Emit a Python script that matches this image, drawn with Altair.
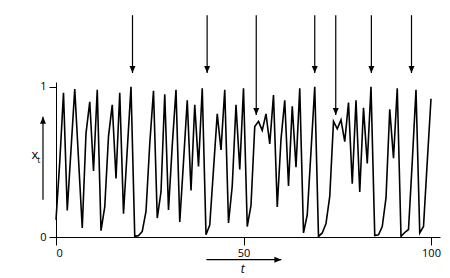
import altair as alt
import pandas as pd

# ---- data ----
t_values = list(range(101))
x_values = [
    0.115, 0.50, 0.96, 0.177, 0.58, 0.985, 0.52, 0.06, 0.69, 0.90,
    0.44, 0.98, 0.042, 0.20, 0.67, 0.88, 0.39, 0.96, 0.155, 0.58,
    1.0, 0.004, 0.009, 0.037, 0.17, 0.62, 0.974, 0.126, 0.30, 0.95,
    0.18, 0.61, 0.98, 0.10, 0.50, 0.91, 0.31, 0.88, 0.47, 0.99,
    0.015, 0.08, 0.45, 0.82, 0.58, 0.98, 0.093, 0.34, 0.88, 0.45,
    0.99, 0.07, 0.21, 0.735, 0.77, 0.71, 0.82, 0.62, 0.945, 0.20,
    0.65, 0.91, 0.34, 0.87, 0.465, 0.99, 0.027, 0.148, 0.57, 1.0,
    0.004, 0.027, 0.09, 0.27, 0.77, 0.72, 0.78, 0.635, 0.895, 0.355,
    0.91, 0.30, 0.86, 0.49, 1.0, 0.01, 0.015, 0.07, 0.26, 0.85,
    0.525, 0.99, 0.004, 0.03, 0.05, 0.50, 0.98, 0.027, 0.07, 0.50,
    0.92,
]
arrow_t = [20.4, 40.3, 53.4, 69.0, 74.6, 84.1, 94.8]
arrow_tip = [1.092, 1.092, 0.813, 1.092, 0.813, 1.092, 1.092]
arrow_top = [1.477] * len(arrow_t)

x_ticks = [0, 50, 100]
y_ticks = [0, 1]
x_domain = [0, 102.4]
y_domain = [0, 1.032]

# axis-direction arrows and labels (data coordinates)
t_arrow = pd.DataFrame({"t0": [40.1], "t1": [60.1], "y": [-0.151]})
t_label = pd.DataFrame({"t": [49.8], "y": [-0.215], "txt": ["t"]})
y_arrow = pd.DataFrame({"t": [-3.47], "y0": [0.248], "y1": [0.80]})
x_label = pd.DataFrame({"t": [-5.6], "y": [0.545], "txt": ["x"]})
x_sub = pd.DataFrame({"t": [-4.55], "y": [0.515], "txt": ["t"]})

FONT = "Open Sans"

series = pd.DataFrame({"t": t_values, "x": x_values})
arrows = pd.DataFrame({"t": arrow_t, "tip": arrow_tip, "top": arrow_top})

xs = alt.Scale(domain=x_domain, nice=False, zero=False)
ys = alt.Scale(domain=y_domain, nice=False, zero=False)

line = alt.Chart(series).mark_line(color="black", strokeWidth=1.6).encode(
    x=alt.X("t:Q", scale=xs,
            axis=alt.Axis(values=x_ticks, title=None, grid=False, format="d",
                          tickSize=8, labelPadding=2, labelFontSize=11,
                          labelFont=FONT, labelColor="black",
                          domainColor="black", tickColor="black")),
    y=alt.Y("x:Q", scale=ys,
            axis=alt.Axis(values=y_ticks, title=None, grid=False, format="d",
                          tickSize=7, labelPadding=3, labelFontSize=11,
                          labelFont=FONT, labelColor="black",
                          domainColor="black", tickColor="black")),
)

rules = alt.Chart(arrows).mark_rule(color="black", strokeWidth=1.2).encode(
    x="t:Q", y="top:Q", y2="tip:Q")
heads = alt.Chart(arrows).mark_point(
    shape="M-0.85,-2L0.85,-2L0,0Z", filled=True, size=49, color="black", opacity=1
).encode(x="t:Q", y="tip:Q")

trule = alt.Chart(t_arrow).mark_rule(color="black", strokeWidth=1.2).encode(
    x="t0:Q", x2="t1:Q", y="y:Q")
thead = alt.Chart(t_arrow).mark_point(
    shape="M-2,-0.85L-2,0.85L0,0Z", filled=True, size=49, color="black", opacity=1
).encode(x="t1:Q", y="y:Q")
ttext = alt.Chart(t_label).mark_text(
    font=FONT, fontSize=12, fontStyle="italic", color="black"
).encode(x="t:Q", y="y:Q", text="txt:N")

yrule = alt.Chart(y_arrow).mark_rule(color="black", strokeWidth=1.2).encode(
    x="t:Q", y="y0:Q", y2="y1:Q")
yhead = alt.Chart(y_arrow).mark_point(
    shape="M-0.85,2L0.85,2L0,0Z", filled=True, size=49, color="black", opacity=1
).encode(x="t:Q", y="y1:Q")
xtext = alt.Chart(x_label).mark_text(
    font=FONT, fontSize=13, color="black").encode(x="t:Q", y="y:Q", text="txt:N")
xsubtext = alt.Chart(x_sub).mark_text(
    font=FONT, fontSize=9, color="black").encode(x="t:Q", y="y:Q", text="txt:N")

chart = alt.layer(
    line, rules, heads, trule, thead, ttext, yrule, yhead, xtext, xsubtext
).properties(
    width=384, height=155,
    autosize=alt.AutoSizeParams(type="none"),
    padding={"left": 56, "top": 82, "right": 10, "bottom": 41},
    background="white",
).configure_view(strokeWidth=0)

chart.save("out.html", embed_options={"renderer": "svg", "actions": False})
